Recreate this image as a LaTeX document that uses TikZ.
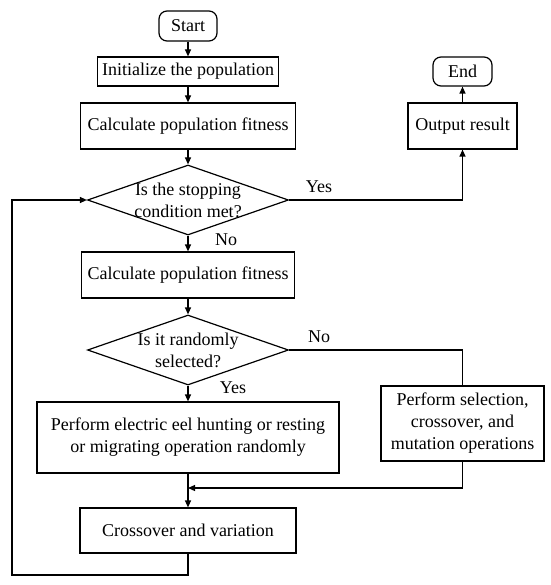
\documentclass[tikz,border=0pt]{standalone}
\usepackage{fontspec}
\setmainfont{Liberation Serif}
\usetikzlibrary{arrows.meta,shapes.geometric}

\begin{document}
\begin{tikzpicture}[x=1pt, y=-1pt, font=\fontsize{18}{22}\selectfont, line width=1.2pt,
  box/.style={draw, inner sep=0pt, align=center},
  term/.style={draw, rounded corners=8pt, inner sep=0pt},
  decide/.style={draw, diamond, aspect=2.87, inner sep=-4pt, align=center, minimum width=201pt, minimum height=70pt},
  arr/.style={-{Triangle[length=7pt, width=6pt]}}]
\useasboundingbox (0,0) rectangle (550,585);
% main column
\node[term, minimum width=58pt, minimum height=30pt] (start) at (188,26) {Start};
\node[box, minimum width=181pt, minimum height=29pt] (init) at (188,71.5) {Initialize the population};
\node[box, minimum width=215pt, minimum height=46pt] (fit1) at (188,126) {Calculate population fitness};
\node[decide] (stop) at (188,200) {Is the stopping\\condition met?};
\node[box, minimum width=213pt, minimum height=46pt] (fit2) at (188,275) {Calculate population fitness};
\node[decide] (rand) at (188,350) {Is it randomly\\selected?};
\node[box, minimum width=302pt, minimum height=71pt] (eel) at (188,437.5) {Perform electric eel hunting or resting\\or migrating operation randomly};
\node[box, minimum width=216pt, minimum height=45pt] (cross) at (188,530.5) {Crossover and variation};
% right column
\node[term, minimum width=59pt, minimum height=29pt] (end) at (462.5,71.5) {End};
\node[box, minimum width=109pt, minimum height=46pt] (out) at (462.5,126) {Output result};
\node[box, minimum width=163pt, minimum height=75pt] (ga) at (462.5,423.5) {Perform selection,\\crossover, and\\mutation operations};
% branch labels
\node (yes1) at (319,187) {Yes};
\node (no1) at (226,240) {No};
\node (no2) at (319,337) {No};
\node (yes2) at (233,388) {Yes};
\coordinate (merge) at (188,488);
\coordinate (loop) at (12,575);
% connectors
\draw[arr] (start) -- (init);
\draw[arr] (init) -- (fit1);
\draw[arr] (fit1) -- (stop);
\draw[arr] (stop.east) -| (out.south);
\draw[arr] (out) -- (end);
\draw[arr] (stop.south) -- (fit2);
\draw[arr] (fit2) -- (rand.north);
\draw (rand.east) -| (ga.north);
\draw[arr] (rand.south) -- (eel);
\draw[arr] (ga.south) |- (merge);
\draw[arr] (eel) -- (cross);
\draw[arr] (cross.south) |- (loop) |- (stop.west);
\end{tikzpicture}
\end{document}
